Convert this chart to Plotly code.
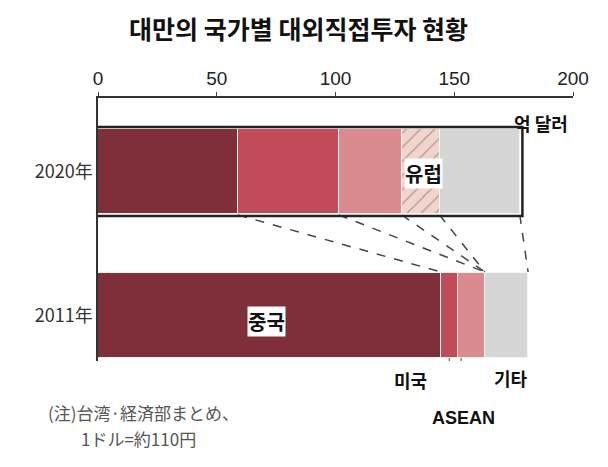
import plotly.graph_objects as go

years = ["2020年", "2011年"]
regions = ["중국", "미국", "ASEAN", "유럽", "기타"]
v2020 = [59.0, 42.4, 26.5, 15.9, 33.8]
v2011 = [144.4, 7.0, 11.5, 0.0, 18.2]
colors = ["#7e2f3a", "#c24b5a", "#d98b8f", "#f1d5cc", "#d6d6d6"]

Y = {"2020年": 73.5, "2011年": 217.5}
BW = 85

def pxp(x):  # page pixel x -> paper x
    return (x - 97) / 475

def pyp(y):  # page pixel y -> paper y
    return 1 - (y - 97) / 263

fig = go.Figure()
for i, r in enumerate(regions):
    pat = dict(shape="/", fgcolor="#6a5a55", bgcolor=colors[i], size=10, solidity=0.12) if r == "유럽" else None
    fig.add_trace(go.Bar(
        orientation="h", y=[Y["2020年"], Y["2011年"]], x=[v2020[i], v2011[i]],
        width=BW, marker=dict(color=colors[i], line=dict(color="#f4f4f4", width=1), pattern=pat),
        showlegend=False, hoverinfo="skip"))

shapes = []
c20 = [sum(v2020[:i + 1]) for i in range(5)]
c11 = [sum(v2011[:i + 1]) for i in range(5)]
pairs = [(0, 0), (1, 2), (2, 2), (3, 3), (4, 4)]
for a, b in pairs:
    shapes.append(dict(type="line", x0=c20[a], x1=c11[b], y0=Y["2020年"] + BW / 2 + 1,
                       y1=Y["2011年"] - BW / 2 - 1, line=dict(color="#444", width=1.5, dash="dash")))
shapes.append(dict(type="rect", x0=-0.9, x1=c20[4] + 1.1, y0=Y["2020年"] - BW / 2 - 2,
                   y1=Y["2020年"] + BW / 2 + 2, line=dict(color="#222", width=2.5)))
shapes.append(dict(type="line", x0=c11[0] + v2011[1] / 2, x1=c11[0] + v2011[1] / 2, y0=260, y1=276, line=dict(color="#444", width=1)))
shapes.append(dict(type="line", x0=c11[1] + 1.5, x1=c11[1] + 1.5, y0=260, y1=302, line=dict(color="#444", width=1)))

kr = "Noto Sans CJK KR"
ann = [
    dict(x=pxp(540), y=pyp(122), text="<b>억 달러</b>", font=dict(size=18, color="#111", family=kr)),
    dict(x=pxp(422), y=pyp(172), text="<b>유럽</b>", font=dict(size=20, color="#111", family=kr), bgcolor="white", borderpad=0),
    dict(x=pxp(265), y=pyp(320), text="<b>중국</b>", font=dict(size=20, color="#111", family=kr), bgcolor="white", borderpad=0),
    dict(x=pxp(409), y=pyp(379), text="<b>미국</b>", font=dict(size=18, color="#111", family=kr)),
    dict(x=pxp(462), y=pyp(417), text="<b>ASEAN</b>", font=dict(size=18, color="#111", family="Liberation Sans")),
    dict(x=pxp(510), y=pyp(377), text="<b>기타</b>", font=dict(size=18, color="#111", family=kr)),
    dict(x=pxp(45), y=pyp(411), text="(注)台湾·経済部まとめ、", xanchor="left", font=dict(size=17, color="#555", family="Noto Sans CJK JP")),
    dict(x=pxp(78), y=pyp(437), text="1ドル=約110円", xanchor="left", font=dict(size=17, color="#555", family="Noto Sans CJK JP")),
]
for a in ann:
    a.setdefault("xanchor", "center")
    a.update(xref="paper", yref="paper", showarrow=False, yanchor="middle")

fig.update_layout(
    width=608, height=467, barmode="stack", bargap=0,
    margin=dict(l=90, r=43, t=90, b=114, autoexpand=False),
    plot_bgcolor="white", paper_bgcolor="white",
    title=dict(text="<b>대만의 국가별 대외직접투자 현황</b>", x=0.478, xanchor="center", y=0.952, yanchor="middle",
               font=dict(size=25, color="#111", family=kr)),
    xaxis=dict(side="top", range=[0, 200], tickvals=[0, 50, 100, 150, 200], showgrid=False, automargin=False,
               showline=True, linecolor="#333", linewidth=1.5, ticks="outside", ticklen=4,
               tickfont=dict(size=19, color="#222", family="Liberation Sans")),
    yaxis=dict(range=[263, 0], tickvals=[Y["2020年"], Y["2011年"]], ticktext=years, showgrid=False, automargin=False,
               zeroline=False, showline=True, linecolor="#333", linewidth=1.5, ticks="",
               tickfont=dict(size=18, color="#333", family="Noto Sans CJK JP")),
    shapes=shapes, annotations=ann,
)
fig.write_html("out.html")
